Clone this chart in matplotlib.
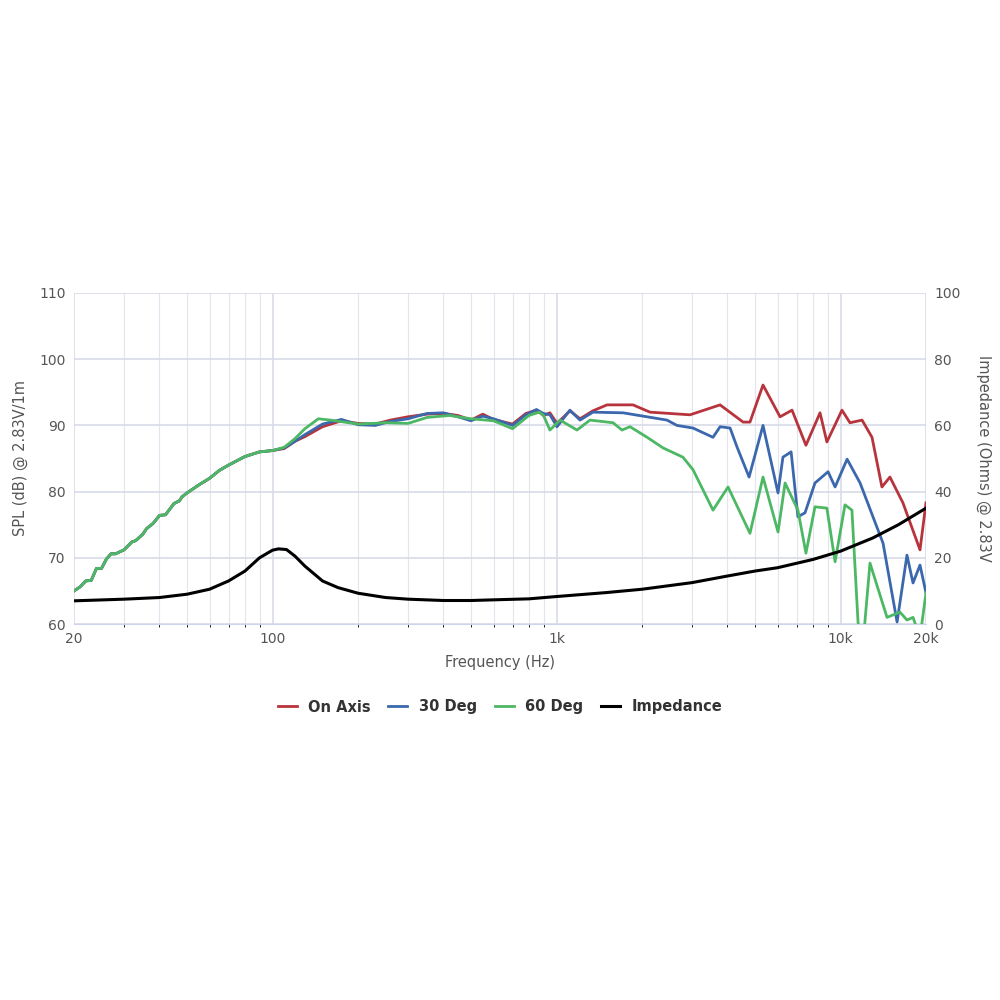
import matplotlib
matplotlib.use('Agg')
import matplotlib.pyplot as plt
from matplotlib.ticker import FixedLocator, NullFormatter

# shared low-frequency rise (all three SPL curves overlap here)
low_f = [20, 21, 22, 23, 24, 25, 26, 27, 28, 30, 32, 33, 35, 36, 38, 40, 42, 45, 47, 48, 50, 55, 60, 65, 70, 80, 90, 100]
low_db = [65, 65.6, 66.5, 66.6, 68.4, 68.4, 69.8, 70.6, 70.6, 71.2, 72.4, 72.6, 73.6, 74.4, 75.2, 76.4, 76.5, 78.2, 78.6, 79.2, 79.8, 81, 82, 83.2, 84, 85.3, 86, 86.2]

red_f = low_f + [110, 120, 130, 150, 175, 200, 230, 260, 300, 350, 400, 450, 500, 550, 600, 700, 780, 850, 900, 948,
                 1004, 1115, 1210, 1343, 1506, 1859, 2134, 2952, 3767, 4540, 4800, 5335, 6125, 6750, 7556, 8470, 8955,
                 10120, 10800, 11910, 12910, 13990, 14930, 16590, 19050, 20000]
red_db = low_db + [86.5, 87.6, 88.3, 89.8, 90.7, 90.3, 90.2, 90.8, 91.3, 91.7, 91.8, 91.5, 90.8, 91.7, 90.9, 90.2, 91.8, 92.3, 91.5, 91.9,
                   90.3, 92.2, 91.0, 92.2, 93.1, 93.1, 92.0, 91.6, 93.1, 90.5, 90.5, 96.1, 91.3, 92.3, 87.0, 91.9, 87.5,
                   92.3, 90.4, 90.8, 88.2, 80.7, 82.2, 78.3, 71.2, 78.3]

blue_f = low_f + [110, 120, 130, 150, 175, 200, 230, 260, 300, 350, 400, 450, 500, 550, 600, 700, 780, 850, 900, 948,
                  1004, 1115, 1210, 1343, 1715, 2450, 2655, 3025, 3557, 3767, 4085, 4325, 4765, 5335, 6025, 6270, 6700,
                  7080, 7500, 8130, 9040, 9570, 10550, 11720, 14120, 15820, 17140, 18000, 19050, 20000]
blue_db = low_db + [86.6, 87.6, 88.6, 90.2, 90.9, 90.1, 90.0, 90.6, 91.0, 91.8, 91.9, 91.3, 90.7, 91.4, 91.0, 90.0, 91.6, 92.4, 91.8, 91.6,
                    89.8, 92.3, 90.8, 92.0, 91.9, 90.8, 90.0, 89.6, 88.2, 89.8, 89.6, 86.7, 82.2, 90.0, 79.8, 85.2, 86.0,
                    76.2, 76.8, 81.3, 83.0, 80.7, 84.9, 81.3, 72.2, 60.3, 70.4, 66.2, 68.9, 64.7]

green_f = low_f + [110, 120, 130, 145, 160, 200, 250, 300, 350, 420, 500, 600, 700, 800, 870, 900, 948,
                   1029, 1181, 1312, 1582, 1700, 1815, 2085, 2372, 2787, 3025, 3557, 4018, 4800, 5335, 6025, 6380, 7080,
                   7556, 8130, 8955, 9570, 10370, 10970, 11530, 12000, 12700, 14580, 16190, 17140, 18000, 19050, 20000]
green_db = low_db + [86.7, 88.0, 89.5, 91.0, 90.8, 90.2, 90.4, 90.3, 91.2, 91.5, 91.0, 90.7, 89.5, 91.5, 92.0, 91.5, 89.3,
                     90.8, 89.3, 90.8, 90.4, 89.3, 89.8, 88.2, 86.6, 85.2, 83.3, 77.2, 80.7, 73.7, 82.2, 73.9, 81.3, 77.2,
                     70.7, 77.7, 77.5, 69.4, 78.0, 77.2, 60.2, 57, 69.2, 61.0, 61.8, 60.6, 61.0, 58, 64.7]

imp_f = [20, 30, 40, 50, 60, 70, 80, 90, 100, 105, 112, 120, 130, 150, 170, 200, 250, 300, 400, 500, 600, 800,
         1000, 1500, 2000, 3000, 4000, 5000, 6000, 8000, 10000, 13000, 16000, 20000]
imp_ohm = [7, 7.5, 8, 9, 10.5, 13, 16, 20, 22.3, 22.7, 22.5, 20.5, 17.5, 13, 11, 9.3, 8, 7.5, 7.1, 7.1, 7.3, 7.6,
           8.3, 9.5, 10.5, 12.5, 14.5, 16, 17, 19.5, 22, 26, 30, 35]

grid_c = '#e3e4ee'
text_c = '#555555'

fig = plt.figure(figsize=(10, 10), dpi=100)
ax = fig.add_axes([0.074, 0.376, 0.852, 0.331])
ax2 = ax.twinx()

ax.plot(red_f, red_db, color='#b8343c', lw=2, label='On Axis')
ax.plot(blue_f, blue_db, color='#3b68ad', lw=2, label='30 Deg')
ax.plot(green_f, green_db, color='#4db864', lw=2, label='60 Deg')
ax2.plot(imp_f, imp_ohm, color='black', lw=2.2, label='Impedance')

ax.set_xscale('log')
ax.set_xlim(20, 20000)
ax.set_ylim(60, 110)
ax2.set_ylim(0, 100)
ax.set_yticks([60, 70, 80, 90, 100, 110])
ax2.set_yticks([0, 20, 40, 60, 80, 100])
ax.xaxis.set_major_locator(FixedLocator([20, 100, 1000, 10000, 20000]))
ax.set_xticklabels(['20', '100', '1k', '10k', '20k'])
ax.xaxis.set_minor_locator(FixedLocator([30, 40, 50, 60, 70, 80, 90, 200, 300, 400, 500, 600, 700, 800, 900,
                                         2000, 3000, 4000, 5000, 6000, 7000, 8000, 9000]))
ax.xaxis.set_minor_formatter(NullFormatter())
ax.grid(True, which='major', color='#d8dae8', lw=1.2)
ax.grid(True, which='minor', axis='x', color=grid_c, lw=0.8)
ax.set_axisbelow(True)

for a in (ax, ax2):
    for s in a.spines.values():
        s.set_visible(False)
    a.tick_params(length=0, labelsize=10, colors=text_c, pad=6)
ax.spines['bottom'].set_visible(True)
ax.spines['bottom'].set_color('#ccd6eb')

ax.set_xlabel('Frequency (Hz)', color=text_c, fontsize=10.5, labelpad=6)
ax.set_ylabel('SPL (dB) @ 2.83V/1m', color=text_c, fontsize=10.5, labelpad=8)
ax2.set_ylabel('Impedance (Ohms) @ 2.83V', color=text_c, fontsize=10.5, rotation=270, labelpad=22)

h1, l1 = ax.get_legend_handles_labels()
h2, l2 = ax2.get_legend_handles_labels()
fig.legend(h1 + h2, l1 + l2, loc='center', bbox_to_anchor=(0.5, 0.293), ncol=4, frameon=False,
           handlelength=1.3, columnspacing=1.2, prop={'weight': 'bold', 'size': 10.5}, labelcolor='#333333')

fig.savefig('out.png', dpi=100)
